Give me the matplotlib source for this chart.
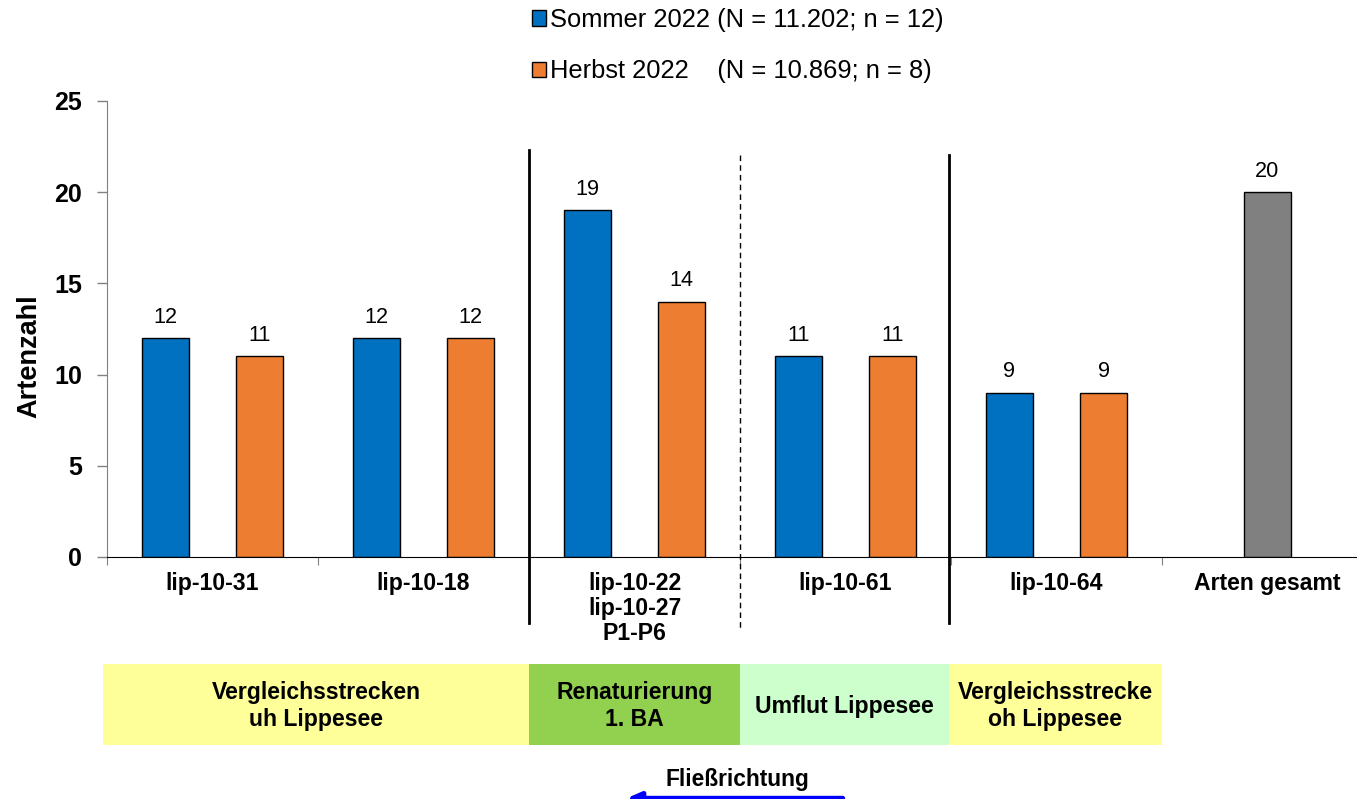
import numpy as np
import matplotlib.pyplot as plt
from matplotlib.patches import Rectangle
import matplotlib.transforms as mtransforms

plt.rcParams["font.family"] = ["Liberation Sans", "DejaVu Sans"]

sites = ["lip-10-31", "lip-10-18", "lip-10-22\nlip-10-27\nP1-P6", "lip-10-61", "lip-10-64", "Arten gesamt"]
sommer = [12, 12, 19, 11, 9]
herbst = [11, 12, 14, 11, 9]
gesamt = [20]
label_sommer = "Sommer 2022 (N = 11.202; n = 12)"
label_herbst = "Herbst 2022    (N = 10.869; n = 8)"

# Abschnitte unter der Grafik: (von, bis, Text, Farbe) in Kategorie-Einheiten
sections = [
    (-0.52, 1.5, "Vergleichsstrecken\nuh Lippesee", "#FFFF99"),
    (1.5, 2.5, "Renaturierung\n1. BA", "#92D050"),
    (2.5, 3.49, "Umflut Lippesee", "#CCFFCC"),
    (3.49, 4.5, "Vergleichsstrecke\noh Lippesee", "#FFFF99"),
]

fig = plt.figure(figsize=(13.57, 7.99), dpi=100)
ax = fig.add_axes([107 / 1357, 242 / 799, 1266 / 1357, 456 / 799])

x = np.arange(len(sites))
w = 0.223
b1 = ax.bar(x[:5] - w, sommer, width=w, color="#0070C0", edgecolor="black", linewidth=1, label=label_sommer)
b2 = ax.bar(x[:5] + w, herbst, width=w, color="#ED7D31", edgecolor="black", linewidth=1, label=label_herbst)
b3 = ax.bar(x[5:], gesamt, width=w, color="#808080", edgecolor="black", linewidth=1)
for b in (b1, b2, b3):
    ax.bar_label(b, padding=7.5, fontsize=15.6)

ax.set_xlim(-0.5, 5.5)
ax.set_ylim(0, 25)
ax.set_yticks(range(0, 26, 5))
ax.tick_params(axis="y", length=7, width=1, color="#808080", pad=11, labelsize=18)
for t in ax.get_yticklabels():
    t.set_fontweight("bold")

ax.set_xticks(np.arange(-0.5, 5.0, 1.0))
ax.set_xticklabels([])
ax.tick_params(axis="x", which="major", length=6, color="#808080")
ax.set_xticks(x, minor=True)
ax.set_xticklabels(sites, minor=True, fontsize=16.6, fontweight="bold", linespacing=1.1)
ax.tick_params(axis="x", which="minor", length=0, pad=11)

ax.spines["top"].set_visible(False)
ax.spines["right"].set_visible(False)
ax.spines["left"].set_color("#808080")

ax.set_ylabel("Artenzahl", fontsize=19.5, fontweight="bold")
ax.yaxis.set_label_coords(-0.051, 0.441)

trans = mtransforms.blended_transform_factory(ax.transData, ax.transAxes)

# Trennlinien
ax.plot([1.5, 1.5], [0.8925, -0.145], color="black", lw=2, transform=trans, clip_on=False)
ax.plot([2.5, 2.5], [0.882, -0.16], color="black", lw=1, ls=(0, (4, 3)), transform=trans, clip_on=False)
ax.plot([3.49, 3.49], [0.882, -0.145], color="black", lw=2, transform=trans, clip_on=False)

for x0, x1, txt, col in sections:
    ax.add_patch(Rectangle((x0, -0.4123), x1 - x0, 0.1777, facecolor=col, edgecolor="none",
                           transform=trans, clip_on=False))
    ax.text((x0 + x1) / 2, -0.327, txt, transform=trans, ha="center", va="center",
            fontsize=16.6, fontweight="bold", linespacing=1.25)

ax.text(2.486, -0.489, "Fließrichtung", transform=trans, ha="center", va="center",
        fontsize=16.4, fontweight="bold")
ax.annotate("", xy=(1.95, -0.529), xytext=(3.0, -0.529), xycoords=trans, textcoords=trans,
            arrowprops=dict(arrowstyle="-|>,head_length=0.8,head_width=0.35", color="#0000FF", lw=3.5))

fig.legend(handles=[b1, b2], labels=[label_sommer, label_herbst], loc="upper left",
           bbox_to_anchor=(532 / 1357, 1 - 8 / 799), frameon=False, fontsize=18.4,
           handlelength=0.55, handleheight=0.55, handletextpad=0.15, labelspacing=1.07,
           borderpad=0, borderaxespad=0)

fig.savefig("out.png", dpi=100)
